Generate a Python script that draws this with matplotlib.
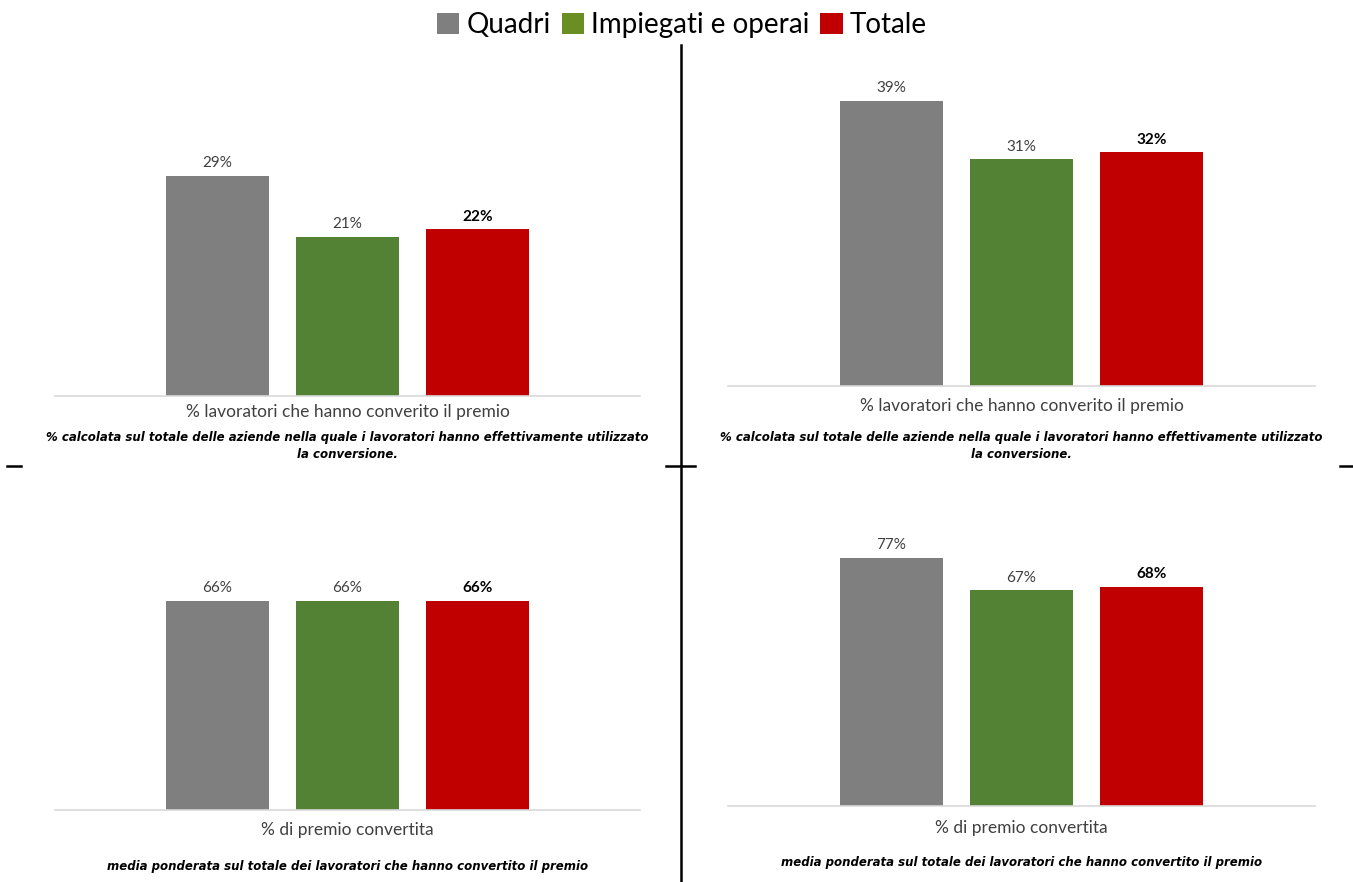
import matplotlib
matplotlib.use("Agg")
import matplotlib.pyplot as plt
from matplotlib.patches import Patch

# ---- Dati ----
gruppi = ["Quadri", "Impiegati e operai", "Totale"]
colori_barre = ["#7F7F7F", "#548235", "#C00000"]
colori_legenda = ["#7F7F7F", "#6B8E23", "#C00000"]

lavoratori_sx = [29, 21, 22]
lavoratori_dx = [39, 31, 32]
premio_sx = [66, 66, 66]
premio_dx = [77, 67, 68]

etichetta_lavoratori = "% lavoratori che hanno converito il premio"
etichetta_premio = "% di premio convertita"
nota_lavoratori = ("% calcolata sul totale delle aziende nella quale i lavoratori hanno effettivamente utilizzato\n"
                   "la conversione.")
nota_premio = "media ponderata sul totale dei lavoratori che hanno convertito il premio"

W, H = 1353, 882
fig = plt.figure(figsize=(W / 100, H / 100), dpi=100)
plt.rcParams['font.family'] = ['Lato', 'DejaVu Sans']


def fx(px):
    return px / W


def fy(py):
    return 1 - py / H


def pannello(x0, x1, base, top, ymax, valori, etichetta, y_etichetta, nota, y_nota):
    ax = fig.add_axes([fx(x0), fy(base), fx(x1 - x0), (base - top) / H])
    pos = range(len(valori))
    barre = ax.bar(pos, valori, width=0.79, color=colori_barre)
    for i, (b, v) in enumerate(zip(barre, valori)):
        ultimo = i == len(valori) - 1
        ax.annotate(f"{v}%", (b.get_x() + b.get_width() / 2, v),
                    xytext=(0, 4), textcoords="offset points",
                    ha="center", va="bottom", fontsize=11,
                    color="black" if ultimo else "#404040",
                    fontweight="bold" if ultimo else "normal")
    ax.set_xlim(-1.25, 3.25)
    ax.set_ylim(0, ymax)
    ax.set_xticks([])
    ax.set_yticks([])
    for s in ["top", "right", "left"]:
        ax.spines[s].set_visible(False)
    ax.spines["bottom"].set_color("#D9D9D9")
    ax.spines["bottom"].set_linewidth(1.2)
    xc = fx((x0 + x1) / 2)
    fig.text(xc, fy(y_etichetta), etichetta, ha="center", va="center",
             fontsize=12.5, color="#404040")
    fig.text(xc, fy(y_nota), nota, ha="center", va="top", fontsize=8.5,
             family="DejaVu Sans", fontweight="bold", fontstyle="oblique",
             color="black", linespacing=1.35)


pannello(55, 640, 396, 60, 44.3, lavoratori_sx, etichetta_lavoratori, 412, nota_lavoratori, 431)
pannello(728, 1315, 386, 60, 44.6, lavoratori_dx, etichetta_lavoratori, 406, nota_lavoratori, 431)
pannello(55, 640, 810, 500, 97.8, premio_sx, etichetta_premio, 830, nota_premio, 860)
pannello(728, 1315, 806, 500, 95.0, premio_dx, etichetta_premio, 828, nota_premio, 856)

# ---- Linee di separazione ----
lc = dict(color="black", linewidth=1.8)
fig.add_artist(plt.Line2D([fx(681), fx(681)], [fy(45), fy(882)], **lc))
fig.add_artist(plt.Line2D([fx(666), fx(695)], [fy(466), fy(466)], **lc))
fig.add_artist(plt.Line2D([fx(7), fx(21)], [fy(466), fy(466)], **lc))
fig.add_artist(plt.Line2D([fx(1340), fx(1353)], [fy(466), fy(466)], **lc))

# ---- Legenda ----
maniglie = [Patch(facecolor=c, edgecolor="none", label=g) for g, c in zip(gruppi, colori_legenda)]
fig.legend(handles=maniglie, loc="center", bbox_to_anchor=(fx(682), fy(25)), ncol=3,
           frameon=False, fontsize=20, handlelength=0.8, handleheight=0.8,
           handletextpad=0.25, columnspacing=0.4, borderpad=0)

fig.savefig("out.png", dpi=100)
